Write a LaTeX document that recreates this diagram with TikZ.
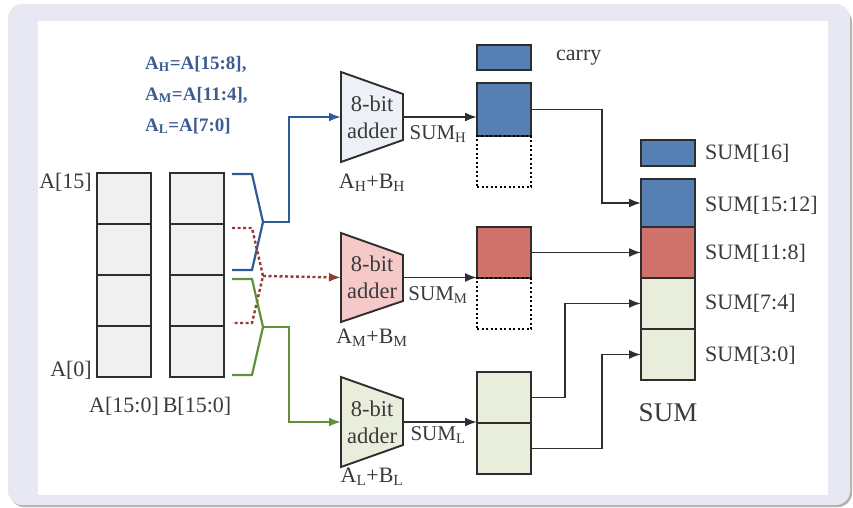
\documentclass[tikz,border=0pt]{standalone}
\usepackage{fontspec}
\setmainfont{Liberation Serif}
\usepackage{xcolor}
\usetikzlibrary{arrows.meta, positioning, calc}

\definecolor{frameLav}{HTML}{E8E8F3}
\definecolor{boxline}{HTML}{2E2E2E}
\definecolor{cellgray}{HTML}{F0F0F0}
\definecolor{hiBlue}{HTML}{567FB4}
\definecolor{midRed}{HTML}{D0716B}
\definecolor{loGreen}{HTML}{E9EEDC}
\definecolor{addHfill}{HTML}{EDF0F6}
\definecolor{addMfill}{HTML}{F4C9C8}
\definecolor{wireBlue}{HTML}{2F5A9A}
\definecolor{wireRed}{HTML}{953A34}
\definecolor{wireGreen}{HTML}{62903A}
\definecolor{eqBlue}{HTML}{3D5C93}
\definecolor{txtgray}{HTML}{3A3A3A}

\begin{document}
\begin{tikzpicture}[
    x=1pt, y=-1pt,
    cell/.style={rectangle, draw=boxline, line width=1.9pt, fill=cellgray,
                 minimum width=54pt, minimum height=51pt, inner sep=0pt, outer sep=0pt},
    hibox/.style={cell, fill=hiBlue},
    midbox/.style={cell, fill=midRed},
    lobox/.style={cell, fill=loGreen},
    emptybox/.style={cell, draw=black, fill=none, line width=1.6pt,
                     dash pattern=on 2pt off 2.5pt},
    adderpoly/.style={draw=boxline, line width=1.9pt},
    addtxt/.style={align=center, font=\fontsize{22.5}{27}\selectfont, text=txtgray, inner sep=0pt},
    lbl/.style={font=\fontsize{22}{24}\selectfont, text=txtgray, inner sep=0pt},
    sublbl/.style={font=\fontsize{21}{23}\selectfont, text=txtgray, inner sep=0pt},
    eq/.style={font=\fontsize{19}{22}\selectfont\bfseries, text=eqBlue, anchor=west, inner sep=0pt},
    conn/.style={-{Latex[length=12pt, width=9pt]}, line width=1.9pt, draw=boxline},
    hiwire/.style={line width=2.2pt, draw=wireBlue},
    midwire/.style={line width=2.4pt, draw=wireRed, dash pattern=on 3pt off 2.5pt},
    lowire/.style={line width=2.2pt, draw=wireGreen}
]
\useasboundingbox (0,0) rectangle (853,508);

% frame
\fill[black!30, rounded corners=14pt] (10,8) rectangle (852,507);
\fill[frameLav, rounded corners=14pt] (8,4) rectangle (850,505);
\fill[white] (38,21) rectangle (828,495);

% split definitions
\node[eq] (eqH) at (145,64) {A\textsubscript{H}=A[15:8],};
\node[eq] (eqM) at (145,95) {A\textsubscript{M}=A[11:4],};
\node[eq] (eqL) at (145,126) {A\textsubscript{L}=A[7:0]};

% operand registers
\node[cell] (a1) at (124,198.5) {};
\node[cell, below=0pt of a1] (a2) {};
\node[cell, below=0pt of a2] (a3) {};
\node[cell, below=0pt of a3] (a4) {};
\node[cell] (b1) at (197,198.5) {};
\node[cell, below=0pt of b1] (b2) {};
\node[cell, below=0pt of b2] (b3) {};
\node[cell, below=0pt of b3] (b4) {};
\node[lbl, anchor=east] (msb) at (92,182) {A[15]};
\node[lbl, anchor=east] (lsb) at (92,370) {A[0]};
\node[lbl] (aname) at (124,406) {A[15:0]};
\node[lbl] (bname) at (197,406) {B[15:0]};

% adders
\filldraw[adderpoly, fill=addHfill] (341,72) -- (403,94) -- (403,140) -- (341,162) -- cycle;
\node[addtxt] (addH) at (372,117) {8-bit\\adder};
\coordinate (hin) at (341,117);
\coordinate (hout) at (403,117);
\node[lbl] (opH) at (372,183) {A\textsubscript{H}+B\textsubscript{H}};

\filldraw[adderpoly, fill=addMfill] (341,233) -- (403,255) -- (403,301) -- (341,322) -- cycle;
\node[addtxt] (addM) at (372,277.5) {8-bit\\adder};
\coordinate (min) at (341,277.5);
\coordinate (mout) at (403,277.5);
\node[lbl] (opM) at (372,338) {A\textsubscript{M}+B\textsubscript{M}};

\filldraw[adderpoly, fill=loGreen] (341,377) -- (403,399) -- (403,445) -- (341,467) -- cycle;
\node[addtxt] (addL) at (372,422) {8-bit\\adder};
\coordinate (lin) at (341,422);
\coordinate (lout) at (403,422);
\node[lbl] (opL) at (372,477) {A\textsubscript{L}+B\textsubscript{L}};

% byte selection
\coordinate (hTip) at (263,222);
\coordinate (mTip) at (263,276);
\coordinate (lTip) at (263,327);
\draw[hiwire] (232,174) -- (252,174) -- (hTip) -- (252,270) -- (232,270);
\draw[midwire] (232,228) -- (252,228) -- (mTip) -- (252,323) -- (232,323);
\draw[lowire] (232,279) -- (252,279) -- (lTip) -- (252,375) -- (232,375);
\draw[hiwire, -{Latex[length=12pt, width=9pt]}] (hTip) -| (289,117) -- (hin);
\draw[midwire, -{Latex[length=12pt, width=9pt]}] (mTip) -- (min);
\draw[lowire, -{Latex[length=12pt, width=9pt]}] (lTip) -| (289,422) -- (lin);

% partial sums
\node[cell, fill=hiBlue, minimum height=25pt] (carry) at (504,57.5) {};
\node[lbl, right=25pt of carry] (carrytxt) {carry};
\node[hibox, minimum height=53pt] (sh) at (504,109.5) {};
\node[emptybox, below=0pt of sh] (shx) {};
\node[midbox] (sm) at (504,252.5) {};
\node[emptybox, below=0pt of sm] (smx) {};
\node[lobox] (sl1) at (504,397.5) {};
\node[lobox, below=0pt of sl1] (sl2) {};

\draw[conn] (hout) -- (hout -| sh.west);
\draw[conn] (mout) -- (mout -| sm.west);
\draw[conn] (lout) -- (lout -| sl1.west);
\node[sublbl, anchor=north] (sumH) at (438,125) {SUM\textsubscript{H}};
\node[sublbl, anchor=north] (sumM) at (438,286) {SUM\textsubscript{M}};
\node[sublbl, anchor=north] (sumL) at (438,426) {SUM\textsubscript{L}};

% result
\node[hibox, minimum height=26pt] (sum16) at (668,153) {};
\node[hibox, minimum height=48pt] (sum15) at (668,203) {};
\node[midbox, below=0pt of sum15] (sum11) {};
\node[lobox, below=0pt of sum11] (sum7) {};
\node[lobox, below=0pt of sum7] (sum3) {};
\node[lbl, anchor=west] (t16) at (705,153) {SUM[16]};
\node[lbl, anchor=west] (t15) at (705,205) {SUM[15:12]};
\node[lbl, anchor=west] (t11) at (705,253) {SUM[11:8]};
\node[lbl, anchor=west] (t7) at (705,303) {SUM[7:4]};
\node[lbl, anchor=west] (t3) at (705,355) {SUM[3:0]};
\node[lbl, font=\fontsize{27}{29}\selectfont] (sumname) at (668,413) {SUM};

\draw[conn] (sh.east) -| ([xshift=-39pt]sum15.west) -- (sum15.west);
\draw[conn] (sm.east) -- (sum11.west);
\draw[conn] (sl1.east) -| ([xshift=-76pt]sum7.west) -- (sum7.west);
\draw[conn] (sl2.east) -| ([xshift=-39pt]sum3.west) -- (sum3.west);

\end{tikzpicture}
\end{document}
